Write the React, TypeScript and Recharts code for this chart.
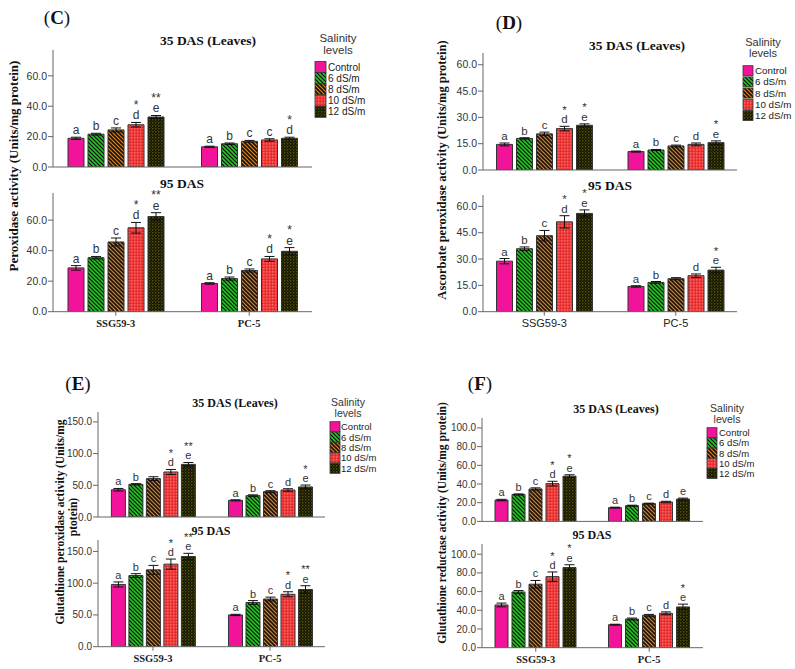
import React from 'react';
import { BarChart, Bar, XAxis, YAxis, ErrorBar, LabelList } from 'recharts';

const cultivars = ['SSG59-3', 'PC-5'];
const salinityLevels = ['Control', '6 dS/m', '8 dS/m', '10 dS/m', '12 dS/m'];

// Each row: one salinity level -> [SSG59-3, PC-5]
// (C) Peroxidase
const pod35 = [[18.9, 13.3], [21.6, 15.3], [24.4, 16.9], [27.8, 17.8], [32.9, 18.9]];
const pod35Err = [[0.7, 0.4], [0.6, 0.5], [1.3, 0.6], [1.5, 0.8], [1.0, 0.7]];
const pod35Sig = [['a', 'a'], ['b', 'b'], ['c', 'c'], ['d', 'c'], ['e', 'd']];
const pod35Star = [['', ''], ['', ''], ['', ''], ['*', ''], ['**', '*']];

const pod95 = [[28.7, 18.5], [35.4, 21.7], [45.7, 27.0], [55.0, 34.6], [62.4, 39.6]];
const pod95Err = [[1.5, 0.5], [0.8, 1.0], [2.6, 1.0], [3.5, 1.6], [2.5, 2.4]];
const pod95Sig = [['a', 'a'], ['b', 'b'], ['c', 'c'], ['d', 'd'], ['e', 'e']];
const pod95Star = [['', ''], ['', ''], ['', ''], ['*', '*'], ['**', '*']];

// (D) Ascorbate peroxidase
const apx35 = [[14.6, 10.5], [18.0, 11.4], [20.6, 13.7], [23.6, 14.6], [25.5, 15.6]];
const apx35Err = [[0.8, 0.3], [0.4, 0.3], [1.0, 0.5], [1.3, 0.8], [0.8, 1.0]];
const apx35Sig = [['a', 'a'], ['b', 'b'], ['c', 'c'], ['d', 'd'], ['e', 'e']];
const apx35Star = [['', ''], ['', ''], ['', ''], ['*', ''], ['*', '*']];

const apx95 = [[28.8, 14.4], [35.9, 16.7], [43.3, 18.8], [51.2, 20.5], [56.0, 23.7]];
const apx95Err = [[1.5, 0.4], [1.0, 0.5], [3.0, 0.6], [3.5, 1.0], [2.0, 1.6]];
const apx95Sig = [['a', 'a'], ['b', 'b'], ['c', ''], ['d', 'd'], ['e', 'e']];
const apx95Star = [['', ''], ['', ''], ['', ''], ['*', ''], ['*', '*']];

// (E) Glutathione peroxidase
const gpx35 = [[43.0, 26.3], [51.6, 33.7], [60.5, 40.0], [71.0, 42.6], [83.0, 47.4]];
const gpx35Err = [[2, 0.8], [1, 1.2], [3, 1.5], [4, 2], [3, 3]];
const gpx35Sig = [['a', 'a'], ['b', 'b'], ['', 'c'], ['d', 'd'], ['e', 'e']];
const gpx35Star = [['', ''], ['', ''], ['', ''], ['*', ''], ['**', '*']];

const gpx95 = [[98, 50], [112, 69.6], [121, 75], [130, 82.5], [142, 90]];
const gpx95Err = [[4, 1], [3, 3], [7, 3], [8, 4], [5, 6]];
const gpx95Sig = [['a', 'a'], ['b', 'b'], ['c', 'c'], ['d', 'd'], ['e', 'e']];
const gpx95Star = [['', ''], ['', ''], ['', ''], ['*', '*'], ['**', '**']];

// (F) Glutathione reductase
const gr35 = [[22.8, 14.7], [28.8, 16.8], [34.7, 19.0], [40.4, 20.7], [48.4, 23.9]];
const gr35Err = [[0.8, 0.5], [0.6, 0.5], [1.2, 0.5], [2.5, 0.8], [1.5, 1.0]];
const gr35Sig = [['a', 'a'], ['b', 'b'], ['c', 'c'], ['d', 'd'], ['e', 'e']];
const gr35Star = [['', ''], ['', ''], ['', ''], ['*', ''], ['*', '']];

const gr95 = [[45.7, 24.6], [59.6, 30.7], [67.9, 34.6], [76.0, 36.8], [85.7, 43.6]];
const gr95Err = [[2, 0.5], [1.5, 1], [4, 1], [5, 1.5], [3, 3]];
const gr95Sig = [['a', 'a'], ['b', 'b'], ['c', 'c'], ['d', 'd'], ['e', 'e']];
const gr95Star = [['', ''], ['', ''], ['', ''], ['*', ''], ['*', '*']];

const ticksC = [0, 20, 40, 60];
const ticksD = [0, 15, 30, 45, 60];
const ticksE = [0, 50, 100, 150];
const ticksF = [0, 20, 40, 60, 80, 100];

const SERIF = '"Liberation Serif", "Times New Roman", serif';
const SANS = '"Liberation Sans", Arial, sans-serif';
const fills = ['#f2139b', 'url(#pGreen)', 'url(#pOrange)', 'url(#pRed)', 'url(#pBlack)'];

function buildRows(vals: number[][], errs: number[][]) {
  return cultivars.map((c, i) => {
    const r: any = { name: c };
    vals.forEach((v, k) => {
      r['v' + k] = v[i];
      r['e' + k] = errs[k][i];
    });
    return r;
  });
}

type Geo = {
  axisX: number; axisEnd: number; topY: number; zeroY: number; yMax: number;
  ticks: number[]; barSize: number; barGap: number; pad: number;
  tickFont: number; sigFont: number;
};

function Panel(props: {
  geo: Geo; vals: number[][]; errs: number[][]; sig: string[][]; stars: string[][];
  bottom: boolean; xSerif?: boolean;
}) {
  const { geo, vals, errs, sig, stars, bottom, xSerif } = props;
  const rows = buildRows(vals, errs);
  const YW = 45;
  const MT = 24;
  const XH = bottom ? 22 : 6;
  const left = geo.axisX - YW;
  const top = geo.topY - MT;
  const width = geo.axisEnd - left + 2;
  const height = MT + (geo.zeroY - geo.topY) + XH;

  const renderTick = (p: any) => {
    const val = p.payload?.value;
    return (
      <text
        x={p.x}
        y={geo.zeroY - top + 11.5}
        textAnchor="middle"
        dominantBaseline="central"
        fontFamily={xSerif ? SERIF : SANS}
        fontWeight={xSerif ? 'bold' : 'normal'}
        fontSize={xSerif ? 10.5 : 11}
        fill="#222"
      >
        {val}
      </text>
    );
  };

  const renderSig = (p: any, k: number) => {
    const vb = p.viewBox || {};
    const x = p.x ?? vb.x;
    const y = p.y ?? vb.y;
    const w = p.width ?? vb.width;
    const h = p.height ?? vb.height;
    const idx = p.index;
    const row = rows[idx];
    if (!row || x == null) return null;
    const val = row['v' + k];
    const err = row['e' + k];
    const errTop = y - (err * h) / val;
    const cx = x + w / 2;
    const letter = sig[k][idx];
    const star = stars[k][idx];
    const base = errTop - 3;
    return (
      <g>
        {letter ? (
          <text x={cx} y={base} textAnchor="middle" fontSize={geo.sigFont} style={{ fill: '#333' }} fontFamily={SANS}>
            {letter}
          </text>
        ) : null}
        {star ? (
          <text x={cx} y={letter ? base - geo.sigFont * 0.85 : base} textAnchor="middle" fontSize={geo.sigFont} style={{ fill: '#333' }} fontFamily={SANS}>
            {star}
          </text>
        ) : null}
      </g>
    );
  };

  return (
    <div style={{ position: 'absolute', left, top }}>
      <BarChart
        width={width}
        height={height}
        data={rows}
        margin={{ top: MT, right: 2, bottom: 0, left: 0 }}
        barGap={geo.barGap}
        barSize={geo.barSize}
        style={{ overflow: 'visible' }}
      >
        <XAxis
          dataKey="name"
          height={XH}
          padding={{ left: -geo.pad, right: -geo.pad }}
          stroke="#666"
          tickSize={bottom ? 4 : 0}
          tick={bottom ? renderTick : false}
          interval={0}
        />
        <YAxis
          width={YW}
          domain={[0, geo.yMax]}
          ticks={geo.ticks}
          allowDataOverflow
          tickFormatter={(v: number) => v.toFixed(1)}
          stroke="#666"
          tickSize={5}
          tickMargin={1}
          tick={{ fill: '#333', fontSize: geo.tickFont, fontFamily: SANS }}
        />
        {salinityLevels.map((s, k) => (
          <Bar
            key={k}
            dataKey={'v' + k}
            name={s}
            fill={fills[k]}
            stroke="#333"
            strokeWidth={1}
            isAnimationActive={false}
          >
            <ErrorBar dataKey={'e' + k} width={5} stroke="#111" strokeWidth={1} isAnimationActive={false} />
            <LabelList dataKey={'v' + k} content={(p: any) => renderSig(p, k)} />
          </Bar>
        ))}
      </BarChart>
    </div>
  );
}

const geoC1: Geo = { axisX: 53, axisEnd: 312, topY: 50, zeroY: 167, yMax: 77, ticks: ticksC, barSize: 16, barGap: 4, pad: 4, tickFont: 10.5, sigFont: 12 };
const geoC2: Geo = { ...geoC1, topY: 193, zeroY: 311.7, yMax: 77.8 };
const geoD1: Geo = { axisX: 483, axisEnd: 737, topY: 53, zeroY: 170, yMax: 66.7, ticks: ticksD, barSize: 16, barGap: 4, pad: 4.5, tickFont: 10.5, sigFont: 11.5 };
const geoD2: Geo = { ...geoD1, topY: 195, zeroY: 311.7, yMax: 66.5 };
const geoE1: Geo = { axisX: 98, axisEnd: 325, topY: 411.7, zeroY: 516.7, yMax: 165.6, ticks: ticksE, barSize: 14, barGap: 3.5, pad: 3.6, tickFont: 10, sigFont: 11 };
const geoE2: Geo = { ...geoE1, topY: 540, zeroY: 646.7, yMax: 168 };
const geoF1: Geo = { axisX: 482, axisEnd: 703, topY: 418.3, zeroY: 521.7, yMax: 110.6, ticks: ticksF, barSize: 13, barGap: 4, pad: 3, tickFont: 10, sigFont: 11 };
const geoF2: Geo = { ...geoF1, topY: 544, zeroY: 647.7, yMax: 110.9 };

function Txt(p: { x: number; y: number; size: number; children: any; bold?: boolean; serif?: boolean; rot?: boolean; anchor?: string; fill?: string }) {
  return (
    <text
      x={p.x}
      y={p.y}
      fontSize={p.size}
      fontFamily={p.serif ? SERIF : SANS}
      fontWeight={p.bold ? 'bold' : 'normal'}
      textAnchor={(p.anchor as any) || 'middle'}
      dominantBaseline="central"
      fill={p.fill || '#111'}
      transform={p.rot ? `rotate(-90, ${p.x}, ${p.y})` : undefined}
    >
      {p.children}
    </text>
  );
}

function LegendBlock(p: { titleX: number; titleY: number; titleSize: number; swX: number; rowY: number; step: number; sw: number; textX: number; font: number }) {
  return (
    <g>
      <Txt x={p.titleX} y={p.titleY} size={p.titleSize} fill="#333">Salinity</Txt>
      <Txt x={p.titleX} y={p.titleY + p.titleSize} size={p.titleSize} fill="#333">levels</Txt>
      {salinityLevels.map((s, k) => {
        const cy = p.rowY + k * p.step;
        return (
          <g key={k}>
            <rect x={p.swX} y={cy - p.sw / 2} width={p.sw} height={p.sw} fill={fills[k]} stroke="#333" strokeWidth={0.8} />
            <Txt x={p.textX} y={cy} size={p.font} anchor="start" fill="#222">{s}</Txt>
          </g>
        );
      })}
    </g>
  );
}

function PanelLetter(p: { x: number; y: number; letter: string }) {
  return (
    <text x={p.x} y={p.y} fontSize={19} fontFamily={SERIF} textAnchor="middle" dominantBaseline="central" fill="#111">
      (<tspan fontWeight="bold">{p.letter}</tspan>)
    </text>
  );
}

export default function App() {
  return (
    <div style={{ position: 'absolute', left: 0, top: 0, width: 795, height: 669, background: '#fff', overflow: 'hidden' }}>
      <svg width={0} height={0} style={{ position: 'absolute' }}>
        <defs>
          <pattern id="pGreen" patternUnits="userSpaceOnUse" width={4} height={4}>
            <rect width={4} height={4} fill="#25c525" />
            <path d="M-1,-1 L5,5 M-1,3 L1,5 M3,-1 L5,1" stroke="#0a0a0a" strokeWidth={1.2} />
          </pattern>
          <pattern id="pOrange" patternUnits="userSpaceOnUse" width={4} height={4}>
            <rect width={4} height={4} fill="#d6842f" />
            <path d="M-1,-1 L5,5 M-1,3 L1,5 M3,-1 L5,1" stroke="#1a1208" strokeWidth={1.6} />
          </pattern>
          <pattern id="pRed" patternUnits="userSpaceOnUse" width={3} height={3}>
            <rect width={3} height={3} fill="#ee3434" />
            <circle cx={0.8} cy={0.8} r={0.6} fill="#ff9d9d" />
            <circle cx={2.3} cy={2.3} r={0.5} fill="#c82020" />
          </pattern>
          <pattern id="pBlack" patternUnits="userSpaceOnUse" width={3} height={3}>
            <rect width={3} height={3} fill="#161600" />
            <circle cx={0.8} cy={0.8} r={0.65} fill="#8f8f1c" />
            <circle cx={2.3} cy={2.3} r={0.5} fill="#4a4a10" />
          </pattern>
        </defs>
      </svg>

      <Panel geo={geoC1} vals={pod35} errs={pod35Err} sig={pod35Sig} stars={pod35Star} bottom={false} />
      <Panel geo={geoC2} vals={pod95} errs={pod95Err} sig={pod95Sig} stars={pod95Star} bottom xSerif />
      <Panel geo={geoD1} vals={apx35} errs={apx35Err} sig={apx35Sig} stars={apx35Star} bottom={false} />
      <Panel geo={geoD2} vals={apx95} errs={apx95Err} sig={apx95Sig} stars={apx95Star} bottom xSerif={false} />
      <Panel geo={geoE1} vals={gpx35} errs={gpx35Err} sig={gpx35Sig} stars={gpx35Star} bottom={false} />
      <Panel geo={geoE2} vals={gpx95} errs={gpx95Err} sig={gpx95Sig} stars={gpx95Star} bottom xSerif />
      <Panel geo={geoF1} vals={gr35} errs={gr35Err} sig={gr35Sig} stars={gr35Star} bottom={false} />
      <Panel geo={geoF2} vals={gr95} errs={gr95Err} sig={gr95Sig} stars={gr95Star} bottom xSerif />

      <svg width={795} height={669} style={{ position: 'absolute', left: 0, top: 0, pointerEvents: 'none' }}>
        <PanelLetter x={57} y={17} letter="C" />
        <PanelLetter x={509} y={22} letter="D" />
        <PanelLetter x={78} y={383} letter="E" />
        <PanelLetter x={480} y={383} letter="F" />

        <Txt x={208} y={40} size={13.5} bold serif>35 DAS (Leaves)</Txt>
        <Txt x={182} y={183} size={13.5} bold serif>95 DAS</Txt>
        <Txt x={637} y={45} size={13.5} bold serif>35 DAS (Leaves)</Txt>
        <Txt x={610} y={185} size={13.5} bold serif>95 DAS</Txt>
        <Txt x={235} y={403} size={12} bold serif>35 DAS (Leaves)</Txt>
        <Txt x={211} y={531} size={12} bold serif>95 DAS</Txt>
        <Txt x={616} y={409} size={12} bold serif>35 DAS (Leaves)</Txt>
        <Txt x={592} y={535} size={12} bold serif>95 DAS</Txt>

        <Txt x={13} y={166} size={13} bold serif rot>Peroxidase activity (Units/mg protein)</Txt>
        <Txt x={442} y={170} size={12.5} bold serif rot>Ascorbate peroxidase activity (Units/mg protein)</Txt>
        <Txt x={60} y={522} size={11.5} bold serif rot>Glutathione peroxidase activity (Units/mg</Txt>
        <Txt x={73} y={517} size={11.5} bold serif rot>ptotein)</Txt>
        <Txt x={442} y={523} size={11.5} bold serif rot>Glutathione reductase activity (Units/mg protein)</Txt>

        <LegendBlock titleX={338} titleY={38} titleSize={11.5} swX={315} rowY={67} step={11.2} sw={11} textX={328} font={10} />
        <LegendBlock titleX={763} titleY={42} titleSize={11} swX={743} rowY={70.7} step={11.2} sw={10} textX={755} font={9.8} />
        <LegendBlock titleX={348} titleY={402} titleSize={10.5} swX={330} rowY={426.7} step={10.4} sw={10} textX={341} font={9.5} />
        <LegendBlock titleX={727} titleY={408} titleSize={10.5} swX={707} rowY={432.7} step={10.2} sw={10} textX={719} font={9.5} />
      </svg>
    </div>
  );
}
